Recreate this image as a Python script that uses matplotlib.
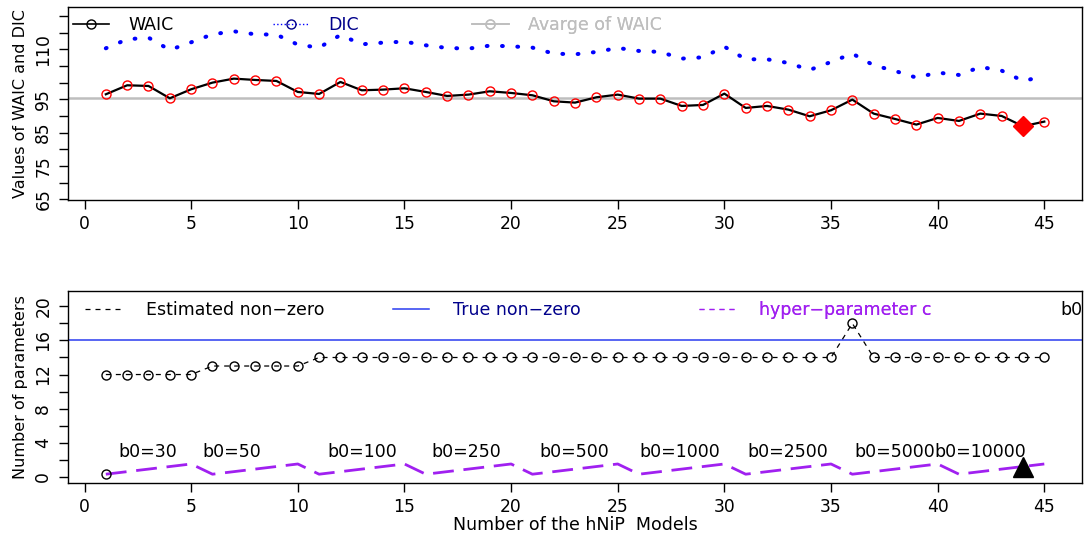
import numpy as np
import matplotlib
matplotlib.use("Agg")
import matplotlib.pyplot as plt
from matplotlib.lines import Line2D

models = list(range(1, 46))

waic = [96.5, 99.2, 99.0, 95.3, 98.0, 100.0, 101.2, 100.8, 100.5, 97.2,
        96.6, 100.2, 97.7, 97.9, 98.3, 97.2, 96.0, 96.4, 97.4, 96.9,
        96.2, 94.4, 94.0, 95.6, 96.4, 95.2, 95.2, 93.0, 93.3, 96.7,
        92.4, 93.0, 91.9, 89.9, 91.7, 94.9, 90.7, 89.1, 87.4, 89.4,
        88.5, 90.7, 90.0, 86.9, 88.3]

dic = [110.3, 113.0, 113.5, 109.8, 112.1, 114.5, 115.4, 114.5, 114.4, 111.4,
       110.5, 114.3, 111.5, 112.0, 112.3, 111.2, 110.4, 110.2, 111.1, 110.9,
       110.5, 108.7, 108.5, 109.2, 110.4, 109.5, 109.2, 107.2, 107.6, 110.8,
       107.0, 107.0, 105.9, 103.8, 106.2, 108.7, 105.2, 103.5, 101.5, 103.0,
       102.3, 104.7, 103.6, 100.5, 101.9]

avg_waic = 95.5

est_nonzero = [12, 12, 12, 12, 12, 13, 13, 13, 13, 13,
               14, 14, 14, 14, 14, 14, 14, 14, 14, 14,
               14, 14, 14, 14, 14, 14, 14, 14, 14, 14,
               14, 14, 14, 14, 14, 18, 14, 14, 14, 14,
               14, 14, 14, 14, 14]

true_nonzero = 16

hyper_c = [0.3, 0.6, 0.9, 1.2, 1.5, 0.3, 0.6, 0.9, 1.2, 1.5,
           0.3, 0.6, 0.9, 1.2, 1.5, 0.3, 0.6, 0.9, 1.2, 1.5,
           0.3, 0.6, 0.9, 1.2, 1.5, 0.3, 0.6, 0.9, 1.2, 1.5,
           0.3, 0.6, 0.9, 1.2, 1.5, 0.3, 0.6, 0.9, 1.2, 1.5,
           0.3, 0.6, 0.9, 1.2, 1.5]

b0_labels = ["b0=30", "b0=50", "b0=100", "b0=250", "b0=500",
             "b0=1000", "b0=2500", "b0=5000", "b0=10000"]
b0_x = [2.95, 6.9, 13.0, 17.9, 22.95, 27.9, 32.95, 38.0, 42.0]
b0_y = 2.9

xticks = [0, 5, 10, 15, 20, 25, 30, 35, 40, 45]
top_yticks = [65, 70, 75, 80, 85, 90, 95, 100, 105, 110, 115, 120]
top_ylabels = ["65", "", "75", "", "85", "", "95", "", "", "110", "", ""]
bot_yticks = [0, 2, 4, 6, 8, 10, 12, 14, 16, 18, 20]
bot_ylabels = ["0", "", "4", "", "8", "", "12", "", "16", "", "20"]

PURPLE = "#a020f0"
LEG_FS = 12.5


def style_axis(ax, yticks, ylabels):
	ax.set_xlim(-0.76, 46.76)
	ax.set_xticks(xticks)
	ax.set_yticks(yticks)
	ax.set_yticklabels(ylabels, rotation=90, va="center")
	ax.tick_params(axis="both", direction="out", length=6.5, width=1, labelsize=12.3)
	ax.tick_params(axis="x", pad=4.5)
	ax.tick_params(axis="y", pad=5)
	for s in ax.spines.values():
		s.set_linewidth(1.0)


def add_key(ax, x, y, handle, label, color, gap):
	leg = ax.legend([handle], [label], loc="center left", bbox_to_anchor=(x, y),
	                frameon=False, borderpad=0, borderaxespad=0, handlelength=2.1,
	                handletextpad=gap, labelcolor=color, fontsize=LEG_FS, numpoints=1)
	ax.add_artist(leg)


def main():
	fig = plt.figure(figsize=(10.84, 5.36), dpi=100)
	ax1 = fig.add_axes([0.063, 0.627, 0.935, 0.360])
	ax2 = fig.add_axes([0.063, 0.0994, 0.935, 0.3576])

	# top panel: WAIC and DIC
	best = int(np.argmin(waic))
	ax1.axhline(avg_waic, color="#bebebe", lw=1.8, zorder=1)
	ax1.plot(models, dic, color="blue", lw=2.9, linestyle=(0, (0.2, 3.6)),
	         dash_capstyle="round", zorder=2)
	ax1.plot(models, waic, color="black", lw=1.6, zorder=3)
	ax1.plot(models, waic, "o", mfc="none", mec="red", mew=1.0, ms=6.5, zorder=4)
	ax1.plot(models[best], waic[best], "D", color="red", ms=10, zorder=5)
	ax1.set_ylim(64.8, 122.7)
	style_axis(ax1, top_yticks, top_ylabels)
	ax1.set_ylabel("Values of WAIC and DIC", fontsize=11.5)
	ax1.yaxis.set_label_coords(-0.040, 0.5)

	h_waic = Line2D([], [], color="black", lw=1.2, marker="o", mfc="none", mec="black", ms=6.5)
	h_dic = Line2D([], [], color="blue", lw=1.0, linestyle=":", marker="o", mfc="none",
	               mec="darkblue", ms=6.5)
	h_avg = Line2D([], [], color="#bebebe", lw=1.2, marker="o", mfc="none", mec="#bebebe", ms=6.5)
	add_key(ax1, 0.0043, 0.907, h_waic, "WAIC", "black", 1.1)
	add_key(ax1, 0.2015, 0.907, h_dic, "DIC", "darkblue", 1.1)
	add_key(ax1, 0.3985, 0.907, h_avg, "Avarge of WAIC", "#bebebe", 1.1)

	# bottom panel: number of parameters
	ax2.axhline(true_nonzero, color="#2a3cf0", lw=1.1, zorder=1)
	ax2.plot(models, est_nonzero, color="black", lw=0.9, linestyle=(0, (4, 4)),
	         marker="o", mfc="none", mec="black", ms=6.5, zorder=3)
	ax2.plot(models, hyper_c, color=PURPLE, lw=2.0, linestyle=(0, (7.5, 3.5)), zorder=2)
	ax2.plot(models[0], hyper_c[0], "o", mfc="none", mec="black", ms=6.5, zorder=3)
	ax2.plot(models[best], hyper_c[best], "^", color="black", ms=15, zorder=4)
	for lab, xx in zip(b0_labels, b0_x):
		ax2.text(xx, b0_y, lab, ha="center", va="center", fontsize=12.5)
	ax2.set_ylim(-0.7, 21.8)
	style_axis(ax2, bot_yticks, bot_ylabels)
	ax2.set_ylabel("Number of parameters", fontsize=11.5)
	ax2.yaxis.set_label_coords(-0.040, 0.5)
	ax2.set_xlabel("Number of the hNiP  Models", fontsize=12.5, labelpad=0)

	h_est = Line2D([], [], color="black", lw=0.9, linestyle=(0, (4, 4)))
	h_true = Line2D([], [], color="#2a3cf0", lw=1.1)
	h_c = Line2D([], [], color=PURPLE, lw=0.9, linestyle=(0, (4, 4)))
	add_key(ax2, 0.0165, 0.901, h_est, "Estimated non\u2212zero", "black", 1.4)
	add_key(ax2, 0.320, 0.901, h_true, "True non\u2212zero", "darkblue", 1.4)
	add_key(ax2, 0.622, 0.901, h_c, "hyper\u2212parameter c", PURPLE, 1.4)
	ax2.text(0.979, 0.901, "b0", transform=ax2.transAxes, ha="left", va="center",
	         fontsize=LEG_FS, clip_on=False)

	fig.savefig("out.png", dpi=100, facecolor="white")


if __name__ == "__main__":
	main()
